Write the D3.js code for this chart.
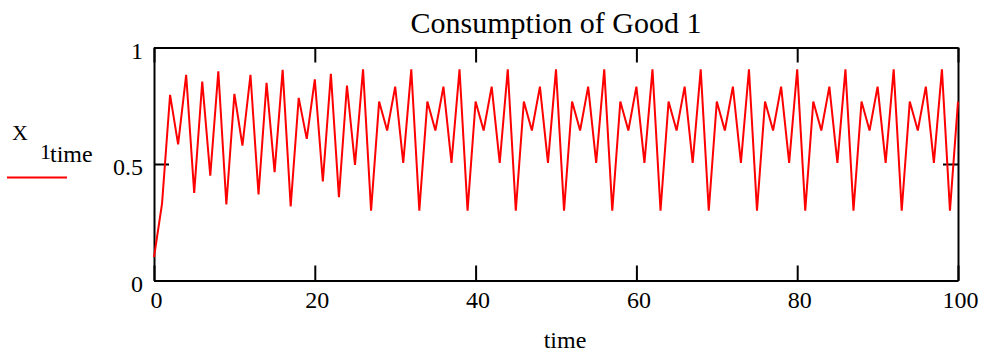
<!DOCTYPE html>
<html>
<head>
  <title>Consumption of Good 1</title>
  <script src="https://d3js.org/d3.v7.min.js"></script>
  <style>
    body {
      margin: 0;
      background: #ffffff;
    }
    svg text {
      font-family: "Liberation Serif", "Times New Roman", serif;
      fill: #000000;
    }
    .axis path,
    .axis line {
      fill: none;
      stroke: #000000;
      stroke-width: 2px;
    }
    .axis text {
      font-size: 24px;
    }
    .series {
      fill: none;
      stroke: #ff0000;
      stroke-width: 2px;
    }
  </style>
</head>
<body>
  <svg id="chart"></svg>

  <script>
    // time steps 0..100
    const time = d3.range(0, 101);

    // X1 values
    const x1 = [
      0.10, 0.33, 0.797, 0.584, 0.883, 0.376, 0.854, 0.45, 0.898, 0.326,
      0.801, 0.579, 0.883, 0.369, 0.848, 0.465, 0.904, 0.318, 0.784, 0.608,
      0.863, 0.425, 0.887, 0.358, 0.837, 0.496, 0.906, 0.300, 0.768, 0.644,
      0.832, 0.505, 0.906, 0.300, 0.768, 0.644, 0.832, 0.505, 0.906, 0.300,
      0.768, 0.644, 0.832, 0.505, 0.906, 0.300, 0.768, 0.644, 0.832, 0.505,
      0.906, 0.300, 0.768, 0.644, 0.832, 0.505, 0.906, 0.300, 0.768, 0.644,
      0.832, 0.505, 0.906, 0.300, 0.768, 0.644, 0.832, 0.505, 0.906, 0.300,
      0.768, 0.644, 0.832, 0.505, 0.906, 0.300, 0.768, 0.644, 0.832, 0.505,
      0.906, 0.300, 0.768, 0.644, 0.832, 0.505, 0.906, 0.300, 0.768, 0.644,
      0.832, 0.505, 0.906, 0.300, 0.768, 0.644, 0.832, 0.505, 0.906, 0.300,
      0.768
    ];

    const xTicks = [0, 20, 40, 60, 80, 100];
    const yTicks = [0, 0.5, 1];
    const yTickLabels = ["0", "0.5", "1"];

    const width = 986;
    const height = 361;
    const plotLeft = 154, plotRight = 958, plotTop = 47.5, plotBottom = 280.5;

    const svg = d3.select("#chart")
                  .attr("width", width)
                  .attr("height", height);

    const xScale = d3.scaleLinear().domain([0, 100]).range([plotLeft, plotRight]);
    const yScale = d3.scaleLinear().domain([0, 1]).range([plotBottom, plotTop]);

    // frame axes, ticks pointing inward
    svg.append("g")
       .attr("class", "axis")
       .attr("transform", `translate(0, ${plotBottom})`)
       .call(d3.axisBottom(xScale).tickValues(xTicks).tickSize(-15).tickSizeOuter(0).tickPadding(10))
       .selectAll("text")
       .attr("dx", "2");

    svg.append("g")
       .attr("class", "axis")
       .attr("transform", `translate(0, ${plotTop})`)
       .call(d3.axisTop(xScale).tickValues(xTicks).tickSize(-15).tickSizeOuter(0).tickFormat(""));

    svg.append("g")
       .attr("class", "axis")
       .attr("transform", `translate(${plotLeft}, 0)`)
       .call(d3.axisLeft(yScale).tickValues(yTicks).tickSize(-15).tickSizeOuter(0).tickPadding(11)
               .tickFormat((d, i) => yTickLabels[i]))
       .selectAll("text")
       .attr("dy", "0.45em");

    svg.append("g")
       .attr("class", "axis")
       .attr("transform", `translate(${plotRight}, 0)`)
       .call(d3.axisRight(yScale).tickValues(yTicks).tickSize(-15).tickSizeOuter(0).tickFormat(""));

    // the series
    const line = d3.line()
                   .x((d, i) => xScale(time[i]))
                   .y(d => yScale(d));

    svg.append("path")
       .datum(x1)
       .attr("class", "series")
       .attr("d", line);

    // title
    svg.append("text")
       .attr("x", (plotLeft + plotRight) / 2)
       .attr("y", 33)
       .attr("text-anchor", "middle")
       .style("font-size", "30px")
       .text("Consumption of Good 1");

    // x label
    svg.append("text")
       .attr("x", 565)
       .attr("y", 348)
       .attr("text-anchor", "middle")
       .style("font-size", "24px")
       .text("time");

    // legend at the left
    const legend = svg.append("g");
    legend.append("text")
          .attr("x", 12)
          .attr("y", 140)
          .style("font-size", "22px")
          .text("X");
    legend.append("text")
          .attr("x", 40)
          .attr("y", 159)
          .style("font-size", "22px")
          .text("1");
    legend.append("text")
          .attr("x", 50)
          .attr("y", 162)
          .style("font-size", "24px")
          .text("time");
    legend.append("line")
          .attr("x1", 7).attr("x2", 67)
          .attr("y1", 177.5).attr("y2", 177.5)
          .attr("stroke", "#ff0000")
          .attr("stroke-width", 2);
  </script>
</body>
</html>
